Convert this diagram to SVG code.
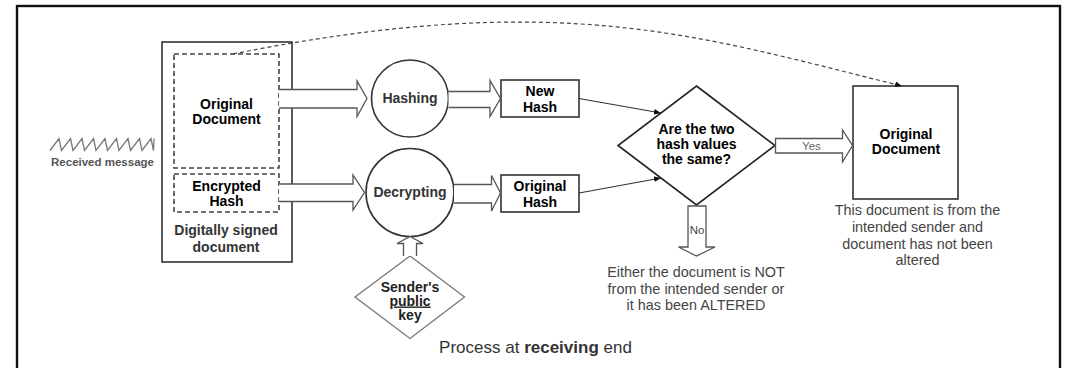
<svg xmlns="http://www.w3.org/2000/svg" width="1068" height="368" viewBox="0 0 1068 368">
<style>
text{font-family:"Liberation Sans",Arial,sans-serif;text-anchor:middle}
.b{font-weight:bold}
.box{fill:#fff;stroke:#333;stroke-width:1.6}
.dash{fill:none;stroke:#444;stroke-width:1.6;stroke-dasharray:5,3}
.blk{fill:#fff;stroke:#555;stroke-width:1.3}
.conn{fill:none;stroke:#333;stroke-width:1.2}
.lbl{font-size:14px;font-weight:bold;fill:#000}
.cap{font-size:14.4px;fill:#444}
</style>
<defs>
<marker id="ah" viewBox="0 0 10 10" refX="10" refY="5" markerWidth="7" markerHeight="7" orient="auto" markerUnits="userSpaceOnUse">
<path d="M0,1 L10,5 L0,9 Z" fill="#111"/>
</marker>
</defs>
<rect x="17" y="6" width="1043" height="400" fill="none" stroke="#111" stroke-width="2.4"/>

<g id="received">
<polyline points="50,150.5 59,138.5 61.5,150.5 70.5,138.5 73,150.5 82,138.5 84.5,150.5 93.5,138.5 96,150.5 105,138.5 107.5,150.5 116.5,138.5 119,150.5 128,138.5 130.5,150.5 139.5,138.5 142,150.5 151,138.5 153.5,150.5 154,138.5" fill="none" stroke="#777" stroke-width="1.3"/>
<text x="102.5" y="166" class="b" font-size="11.5" fill="#555">Received message</text>
</g>

<g id="signed-doc">
<rect x="162" y="42" width="130" height="220" class="box"/>
<text x="226" y="235" class="b" font-size="14" fill="#333">Digitally signed</text>
<text x="226" y="251.5" class="b" font-size="14" fill="#333">document</text>
</g>
<g id="orig-doc-in">
<rect x="174" y="54" width="105" height="114" class="dash"/>
<text x="226.5" y="109" class="lbl">Original</text>
<text x="226.5" y="124" class="lbl">Document</text>
</g>
<g id="enc-hash">
<rect x="174" y="174" width="105" height="38" class="dash"/>
<text x="226.5" y="191" class="lbl">Encrypted</text>
<text x="226.5" y="206" class="lbl">Hash</text>
</g>

<g id="hashing">
<circle cx="410" cy="98.5" r="38.5" class="box"/>
<text x="410" y="103" class="b" font-size="14" fill="#333">Hashing</text>
</g>
<g id="decrypting">
<circle cx="410" cy="192.5" r="44" class="box"/>
<text x="410" y="197" class="b" font-size="14" fill="#333">Decrypting</text>
</g>
<g id="new-hash">
<rect x="501" y="80" width="78" height="37" class="box"/>
<text x="540" y="95.5" class="lbl" font-size="16">New</text>
<text x="540" y="111.5" class="lbl" font-size="16">Hash</text>
</g>
<g id="orig-hash">
<rect x="501" y="175" width="78" height="37" class="box"/>
<text x="540" y="191" class="lbl" font-size="16">Original</text>
<text x="540" y="206.5" class="lbl" font-size="16">Hash</text>
</g>
<g id="key">
<polygon points="410,256 464.5,297 410,338.5 355,297" fill="#fff" stroke="#777" stroke-width="1.3"/>
<text x="410" y="291.5" class="b" font-size="14" fill="#222">Sender's</text>
<text x="410" y="305.5" class="b" font-size="14" fill="#222" text-decoration="underline">public</text>
<text x="410" y="320" class="b" font-size="14" fill="#222">key</text>
</g>
<g id="decision">
<polygon points="696.5,86 775,145.5 696.5,205 618,145.5" fill="#fff" stroke="#222" stroke-width="1.6"/>
<text x="696.5" y="133.5" class="lbl">Are the two</text>
<text x="696.5" y="148.5" class="lbl">hash values</text>
<text x="696.5" y="163.5" class="lbl">the same?</text>
</g>
<g id="orig-doc-out">
<rect x="853" y="86" width="105" height="113" class="box"/>
<text x="906" y="138.5" class="lbl">Original</text>
<text x="906" y="153.5" class="lbl">Document</text>
<text x="917.5" y="215" class="cap">This document is from the</text>
<text x="917.5" y="231.5" class="cap">intended sender and</text>
<text x="917.5" y="248.5" class="cap">document has not been</text>
<text x="917.5" y="265" class="cap">altered</text>
</g>
<g id="fail-note">
<text x="696" y="276.5" class="cap">Either the document is NOT</text>
<text x="696" y="293.5" class="cap">from the intended sender or</text>
<text x="696" y="310" class="cap">it has been ALTERED</text>
</g>
<g id="title">
<text x="535.5" y="353" font-size="17" fill="#333">Process at <tspan font-weight="bold">receiving</tspan> end</text>
</g>

<g id="connectors">
<path d="M279,89.5 H357 V81 L367,98.5 L357,116.5 V108 H279" class="blk"/>
<path d="M448.5,91.5 H490 V80.5 L500.5,98.5 L490,116.5 V107.5 H448.5" class="blk"/>
<path d="M279,184 H353 V175 L364.5,192.5 L353,210 V201.5 H279" class="blk"/>
<path d="M454,184.5 H491.5 V175.5 L500.5,193 L491.5,211 V203 H454" class="blk"/>
<path d="M403.5,256 V243.5 H397 L410,236.5 L423,243.5 H416.5 V256" class="blk"/>
<path d="M775.5,138.5 H842.5 V130 L852.5,145.5 L842.5,162 V153 H775.5 Z" class="blk"/>
<text x="811.5" y="149.5" font-size="11.5" fill="#666">Yes</text>
<path d="M688,206 V247 H678.5 L696.5,256 L715,247 H706 V206 Z" class="blk"/>
<text x="697" y="233.5" font-size="11.5" fill="#444">No</text>
<line x1="579" y1="98.5" x2="661" y2="113" class="conn" marker-end="url(#ah)"/>
<line x1="579" y1="193" x2="661" y2="178" class="conn" marker-end="url(#ah)"/>
<path d="M233,54 C563,-12 702,37 902,86" fill="none" stroke="#444" stroke-width="1.2" stroke-dasharray="4,3" marker-end="url(#ah)"/>
</g>
</svg>
